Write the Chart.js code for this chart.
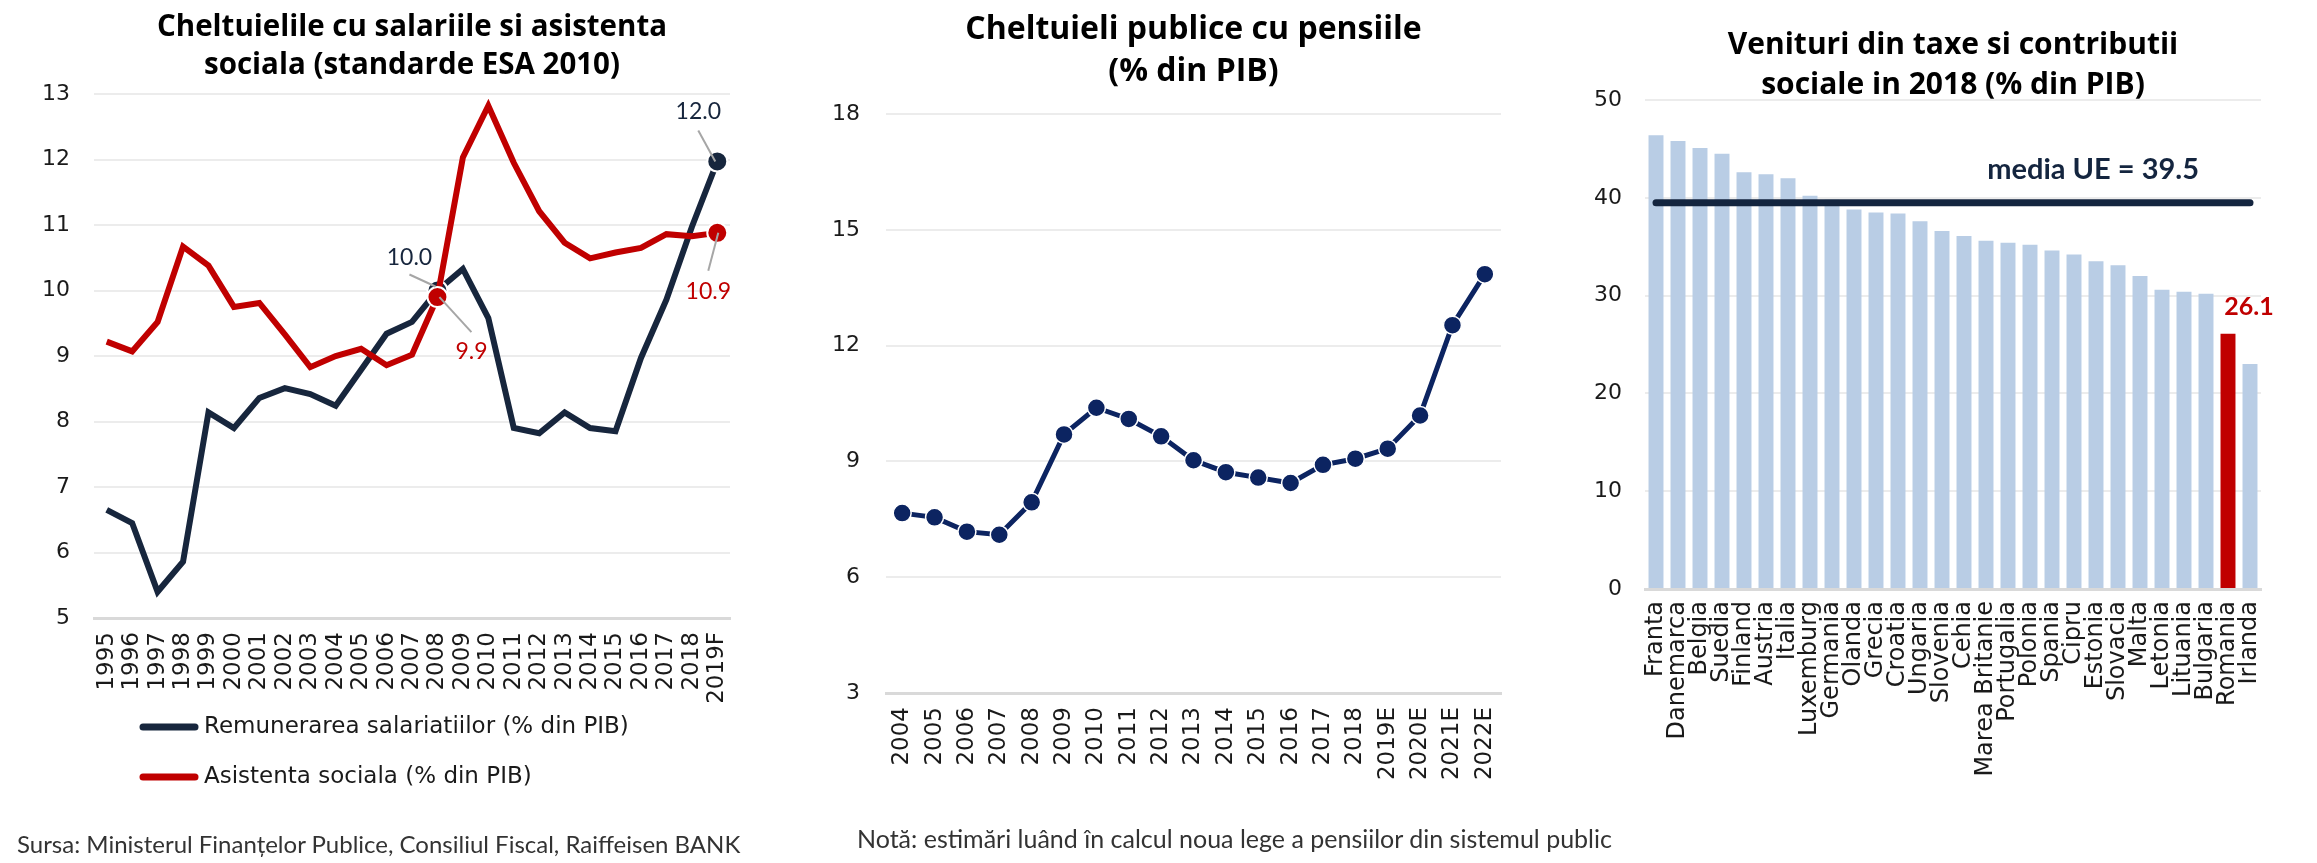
<!DOCTYPE html>
<html>
<head>
<meta charset="utf-8">
<script src="https://cdn.jsdelivr.net/npm/chart.js@4.4.1/dist/chart.umd.min.js"></script>
<style>
  html, body { margin: 0; padding: 0; background: #fff; }
  body { width: 2317px; height: 863px; position: relative; overflow: hidden; }
  .box { position: absolute; top: 0; height: 863px; }
  .nota { position: absolute; font-family: Lato, sans-serif; color: #333; white-space: nowrap; line-height: 1; }
</style>
</head>
<body>
<div class="box" style="left:0;width:780px"><canvas id="salariiChart"></canvas></div>
<div class="box" style="left:780px;width:760px"><canvas id="pensiiChart"></canvas></div>
<div class="box" style="left:1540px;width:777px"><canvas id="taxeChart"></canvas></div>
<div class="nota" style="left:17px;top:832px;font-size:24px">Sursa: Ministerul Finanțelor Publice, Consiliul Fiscal, Raiffeisen BANK</div>
<div class="nota" style="left:857px;top:826px;font-size:25px">Notă: estimări luând în calcul noua lege a pensiilor din sistemul public</div>

<script>
// --- date ---
const ani = ['1995', '1996', '1997', '1998', '1999', '2000', '2001', '2002', '2003', '2004', '2005', '2006',
  '2007', '2008', '2009', '2010', '2011', '2012', '2013', '2014', '2015', '2016', '2017', '2018', '2019F'];
const remunerare = [6.65, 6.45, 5.4, 5.86, 8.14, 7.9, 8.36, 8.51, 8.42, 8.24, 8.79, 9.34,
  9.52, 10.0, 10.33, 9.58, 7.9, 7.82, 8.14, 7.9, 7.85, 8.97, 9.86, 10.97, 11.97];
const asistenta = [9.22, 9.07, 9.52, 10.67, 10.38, 9.75, 9.81, 9.33, 8.83, 9.0, 9.11, 8.86,
  9.02, 9.9, 12.03, 12.82, 11.95, 11.21, 10.73, 10.49, 10.58, 10.65, 10.86, 10.83, 10.88];
const aniEtichetati = ['2008', '2019F'];

const aniPensii = ['2004', '2005', '2006', '2007', '2008', '2009', '2010', '2011', '2012', '2013', '2014',
  '2015', '2016', '2017', '2018', '2019E', '2020E', '2021E', '2022E'];
const pensii = [7.66, 7.55, 7.18, 7.1, 7.94, 9.7, 10.39, 10.1, 9.65, 9.03, 8.72,
  8.58, 8.44, 8.91, 9.07, 9.33, 10.19, 12.53, 13.85];

const tari = ['Franta', 'Danemarca', 'Belgia', 'Suedia', 'Finland', 'Austria', 'Italia', 'Luxemburg', 'Germania',
  'Olanda', 'Grecia', 'Croatia', 'Ungaria', 'Slovenia', 'Cehia', 'Marea Britanie', 'Portugalia', 'Polonia',
  'Spania', 'Cipru', 'Estonia', 'Slovacia', 'Malta', 'Letonia', 'Lituania', 'Bulgaria', 'Romania', 'Irlanda'];
const venituri = [46.4, 45.8, 45.1, 44.5, 42.6, 42.4, 42.0, 40.2, 39.8,
  38.8, 38.5, 38.4, 37.6, 36.6, 36.1, 35.6, 35.4, 35.2,
  34.6, 34.2, 33.5, 33.1, 32.0, 30.6, 30.4, 30.2, 26.1, 23.0];
const mediaUE = 39.5;

// --- stil ---
const NAVY = '#17263d';
const ROSU = '#c00000';
const BLEUMARIN = '#0c2461';
const GRILA = '#ececec';
const TEXT = '#1a1a1a';
const fontTicks = 'DejaVu Sans';

Chart.defaults.animation = false;
Chart.defaults.plugins.legend.display = false;
Chart.defaults.plugins.tooltip.enabled = false;
Chart.defaults.color = TEXT;

function axaY(min, max, step, padding) {
  return {
    min: min, max: max,
    ticks: { stepSize: step, padding: padding, font: { family: fontTicks, size: 22 }, color: TEXT },
    grid: { color: GRILA, lineWidth: 2, drawTicks: false },
    border: { display: false },
    afterFit: function (axis) { axis.width = 80; }
  };
}

function axaX(padding, height, size) {
  return {
    offset: true,
    ticks: { minRotation: 90, maxRotation: 90, autoSkip: false, padding: padding, font: { family: fontTicks, size: size }, color: TEXT },
    grid: { display: false, drawTicks: false },
    border: { display: true, color: '#d9d9d9', width: 3 },
    afterFit: function (axis) { axis.height = height; }
  };
}

function titlu(text, size, lineHeight, top, bottom) {
  return {
    display: true,
    text: text,
    fullSize: false,
    color: '#000',
    font: { family: 'Open Sans', size: size, weight: 'bold', lineHeight: lineHeight / size },
    padding: { top: top, bottom: bottom }
  };
}

const razeSalarii = ani.map(a => aniEtichetati.includes(a) ? 10 : 0);

// etichete cu linii de legatura si legenda (graficul 1)
const eticheteSalarii = {
  id: 'eticheteSalarii',
  afterDatasetsDraw(chart) {
    const ctx = chart.ctx;
    const x = chart.scales.x, y = chart.scales.y;
    // [serie, an, dx, dy, culoare, capat linie la eticheta, capat linie la punct]
    const note = [
      [remunerare, '2008', -28, -33, NAVY, [0, 17], [-2, -4]],
      [asistenta, '2008', 34, 55, ROSU, [0, -20], [2, 0]],
      [remunerare, '2019F', -19, -50, NAVY, [0, 19], [-2, 0]],
      [asistenta, '2019F', -9, 59, ROSU, [0, -21], [1, 0]]
    ];
    ctx.save();
    note.forEach(n => {
      const i = ani.indexOf(n[1]);
      const px = x.getPixelForValue(i), py = y.getPixelForValue(n[0][i]);
      const lx = px + n[2], ly = py + n[3];
      ctx.strokeStyle = '#a6a6a6';
      ctx.lineWidth = 2;
      ctx.beginPath();
      ctx.moveTo(lx + n[5][0], ly + n[5][1]);
      ctx.lineTo(px + n[6][0], py + n[6][1]);
      ctx.stroke();
      ctx.fillStyle = n[4];
      ctx.font = '23px Lato';
      ctx.textAlign = 'center';
      ctx.textBaseline = 'middle';
      ctx.fillText(n[0][i].toFixed(1), lx, ly);
    });
    // legenda
    chart.data.datasets.slice().reverse().forEach((ds, k) => {
      const ly = 727 + k * 50;
      ctx.strokeStyle = ds.borderColor;
      ctx.lineWidth = 7;
      ctx.lineCap = 'round';
      ctx.beginPath();
      ctx.moveTo(143, ly);
      ctx.lineTo(195, ly);
      ctx.stroke();
      ctx.fillStyle = TEXT;
      ctx.font = '23px "DejaVu Sans"';
      ctx.textAlign = 'left';
      ctx.textBaseline = 'middle';
      ctx.fillText(ds.label, 204, ly);
    });
    ctx.restore();
  }
};

new Chart(document.getElementById('salariiChart'), {
  type: 'line',
  data: {
    labels: ani,
    datasets: [
      {
        label: 'Asistenta sociala (% din PIB)',
        data: asistenta,
        borderColor: ROSU,
        backgroundColor: ROSU,
        borderWidth: 6,
        tension: 0,
        pointRadius: razeSalarii,
        pointBorderColor: '#fff',
        pointBorderWidth: 2,
        order: 0
      },
      {
        label: 'Remunerarea salariatiilor (% din PIB)',
        data: remunerare,
        borderColor: NAVY,
        backgroundColor: NAVY,
        borderWidth: 6,
        tension: 0,
        pointRadius: razeSalarii,
        pointBorderColor: '#fff',
        pointBorderWidth: 2,
        order: 1
      }
    ]
  },
  options: {
    responsive: true,
    maintainAspectRatio: false,
    layout: { padding: { left: 14, right: 50, top: 0, bottom: 145 } },
    scales: {
      x: axaX(14, 100, 23),
      y: axaY(5, 13, 1, 24)
    },
    plugins: {
      title: titlu(['Cheltuielile cu salariile si asistenta', 'sociala (standarde ESA 2010)'], 29.5, 38, 9, 9)
    }
  },
  plugins: [eticheteSalarii]
});

new Chart(document.getElementById('pensiiChart'), {
  type: 'line',
  data: {
    labels: aniPensii,
    datasets: [{
      label: 'Cheltuieli publice cu pensiile (% din PIB)',
      data: pensii,
      borderColor: BLEUMARIN,
      backgroundColor: BLEUMARIN,
      borderWidth: 5,
      tension: 0,
      pointRadius: 9,
      pointBorderColor: '#fff',
      pointBorderWidth: 1.5
    }]
  },
  options: {
    responsive: true,
    maintainAspectRatio: false,
    layout: { padding: { left: 26, right: 39, top: 0, bottom: 60 } },
    scales: {
      x: axaX(14, 110, 23),
      y: axaY(3, 18, 3, 26)
    },
    plugins: {
      title: titlu(['Cheltuieli publice cu pensiile', '(% din PIB)'], 32, 42, 9, 21)
    }
  }
});

const eticheteTaxe = {
  id: 'eticheteTaxe',
  afterDatasetsDraw(chart) {
    const ctx = chart.ctx;
    const y = chart.scales.y;
    const area = chart.chartArea;
    ctx.save();
    ctx.fillStyle = '#14253f';
    ctx.font = 'bold 29px Lato';
    ctx.textAlign = 'right';
    ctx.textBaseline = 'middle';
    ctx.fillText('media UE = ' + mediaUE.toFixed(1), area.right - 62, y.getPixelForValue(mediaUE) - 33);
    const i = tari.indexOf('Romania');
    const bar = chart.getDatasetMeta(1).data[i];
    ctx.fillStyle = ROSU;
    ctx.font = 'bold 25px Lato';
    ctx.textAlign = 'center';
    ctx.fillText(venituri[i].toFixed(1), bar.x + 21, bar.y - 27);
    ctx.restore();
  }
};

new Chart(document.getElementById('taxeChart'), {
  type: 'bar',
  data: {
    labels: tari,
    datasets: [
      {
        type: 'line',
        label: 'media UE',
        data: tari.map(() => mediaUE),
        borderColor: '#14253f',
        borderWidth: 7,
        borderCapStyle: 'round',
        pointRadius: 0,
        order: 0
      },
      {
        label: 'Venituri din taxe si contributii sociale in 2018 (% din PIB)',
        data: venituri,
        backgroundColor: tari.map(t => t === 'Romania' ? ROSU : '#b9cde5'),
        categoryPercentage: 1,
        barPercentage: 0.68,
        order: 1
      }
    ]
  },
  options: {
    responsive: true,
    maintainAspectRatio: false,
    layout: { padding: { left: 25, right: 56, top: 0, bottom: 74 } },
    scales: {
      x: axaX(12, 200, 24),
      y: axaY(0, 50, 10, 23)
    },
    plugins: {
      title: titlu(['Venituri din taxe si contributii', 'sociale in 2018 (% din PIB)'], 30, 40, 25, -5)
    }
  },
  plugins: [eticheteTaxe]
});
</script>
</body>
</html>
